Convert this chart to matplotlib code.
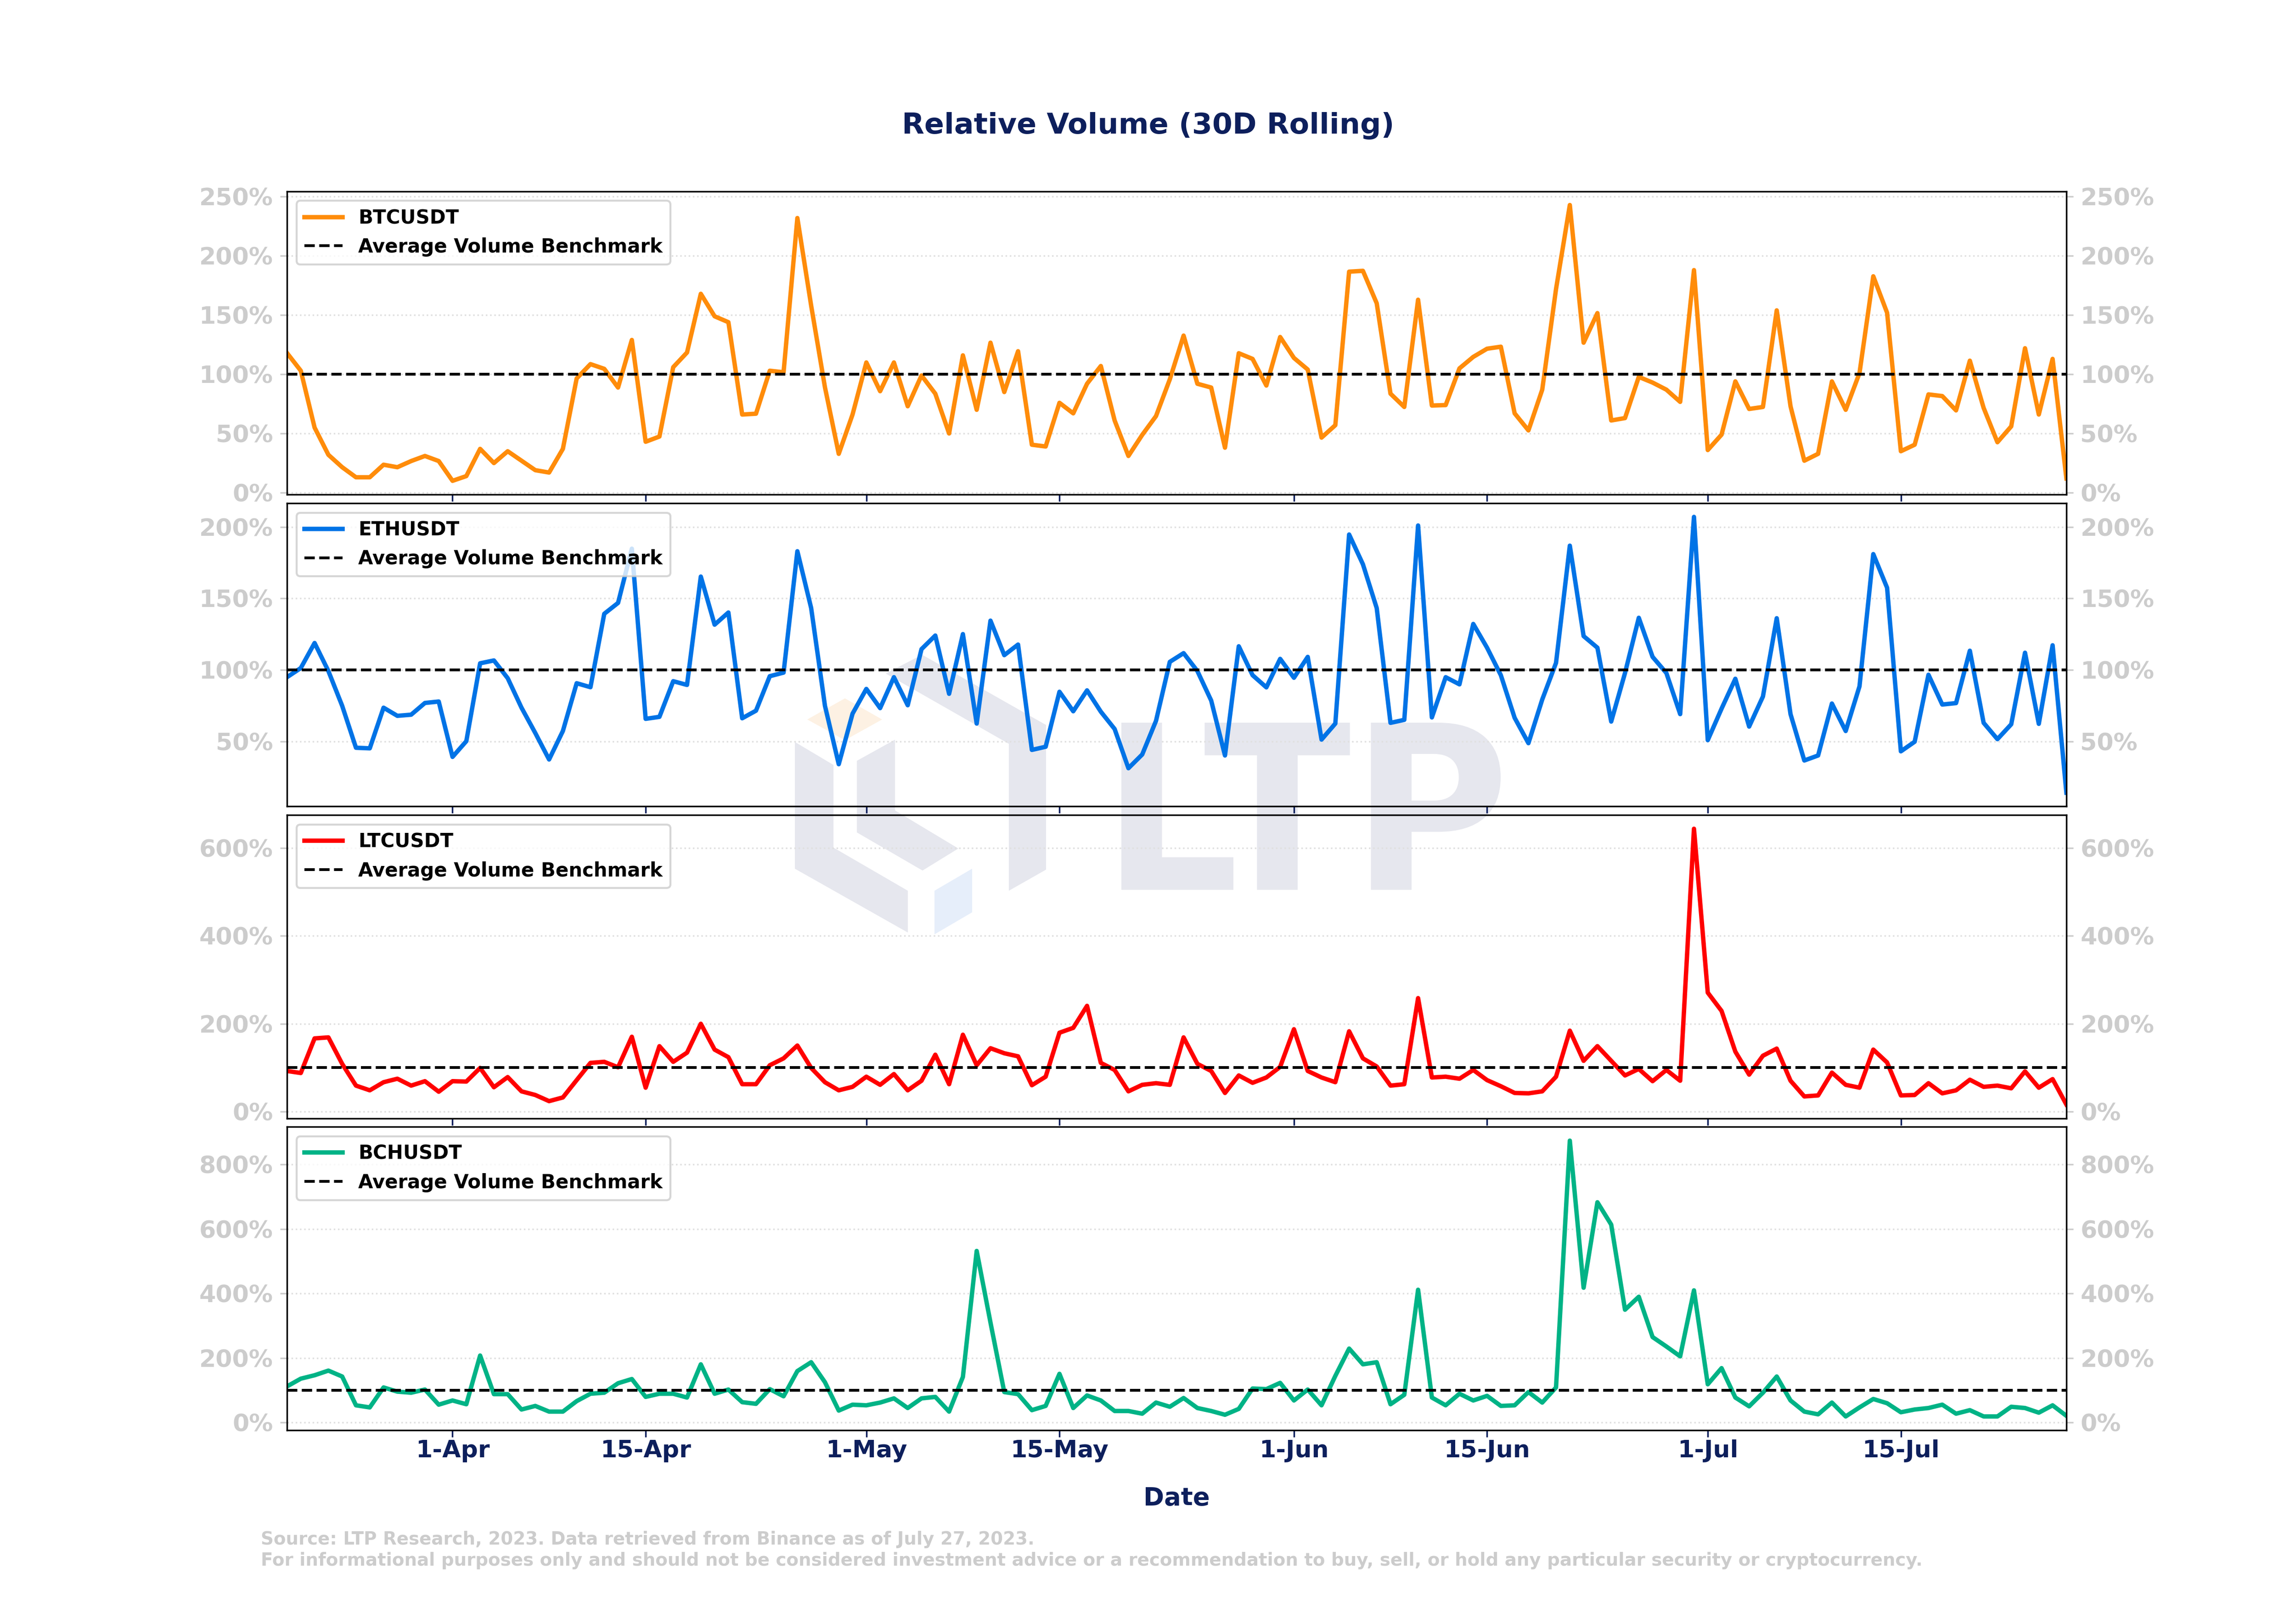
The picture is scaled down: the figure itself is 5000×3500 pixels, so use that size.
import pandas as pd
import matplotlib
matplotlib.use("Agg")
import matplotlib.pyplot as plt
import matplotlib.dates as mdates
from matplotlib.ticker import MultipleLocator, FuncFormatter
from matplotlib.patches import Polygon, PathPatch
from matplotlib.textpath import TextPath
from matplotlib.font_manager import FontProperties
from matplotlib.transforms import Affine2D

plt.rcParams['font.family'] = ['DejaVu Sans']
plt.rcParams['font.weight'] = 'bold'
plt.rcParams['axes.labelweight'] = 'bold'
plt.rcParams['figure.titleweight'] = 'bold'

# 1. Data (relative volume, % of 30D rolling average)
dates = pd.date_range('2023-03-20', '2023-07-27', freq='D')

btc = [118, 103, 55, 32, 21.5, 13, 13, 23.6, 21.5, 26.7,
       31, 26.7, 10, 14, 37, 25, 35, 27, 19, 17,
       37, 96.5, 108.6, 104.6, 88.8, 129, 43, 47.4, 106, 118.4,
       168, 149, 144, 66, 66.7, 103, 101.7, 232, 158, 89,
       32.8, 66, 110, 85.7, 110, 73, 99, 83.6, 50, 116,
       70, 126.7, 85, 119.5, 40.5, 39, 75.9, 67, 92, 107,
       61, 31, 48.8, 64.7, 95.7, 132.7, 92, 88.8, 38, 117.8,
       113, 90.5, 131.5, 113.8, 104, 46.5, 57, 186.7, 187.4, 160,
       83.6, 72.4, 163, 73.6, 74, 105, 114.7, 121.6, 123.3, 67,
       52.6, 87, 172, 243, 126.7, 151.7, 61, 63, 97.8, 93,
       87, 76.7, 188, 36, 49, 94, 70.7, 72.4, 154, 73,
       27, 32.8, 94, 70, 101, 182.8, 152, 35, 40.5, 83,
       81.6, 69.5, 111.5, 71.6, 42.6, 56, 122, 66, 113, 12]

eth = [95, 101.4, 118.9, 99.3, 75, 45.7, 45.3, 73.7, 68, 68.8,
       77, 78, 39.3, 50.3, 104.7, 106.7, 94.3, 73.7, 56, 37.5,
       57.4, 90.8, 88, 139.3, 146.9, 184.8, 65.9, 67.3, 92.2, 89.6,
       165.3, 131.7, 140.2, 66.3, 71.6, 95.7, 98.2, 183, 143.3, 75,
       34.2, 69.5, 86.8, 73.4, 95, 75.4, 114.6, 124.1, 83.4, 125.1,
       62.6, 134.5, 110.4, 117.8, 44.2, 46.4, 84.8, 71.2, 85.8, 70.9,
       58.8, 31.4, 41, 64.5, 105.7, 111.8, 99.3, 78.7, 40.3, 116.6,
       96.4, 87.9, 107.8, 94.6, 109.2, 51.4, 62.6, 194.7, 173.9, 143.3,
       63.1, 65.2, 201, 66.9, 95, 90, 132.2, 115.6, 96.4, 66.6,
       48.9, 79.4, 105, 186.9, 123.7, 115.6, 64, 97.9, 136.5, 109.2,
       97.9, 69.2, 207, 51, 73, 93.9, 60.5, 81.5, 136.2, 69.2,
       36.8, 40.3, 76.6, 57.4, 88.6, 181, 157.5, 43.2, 49.9, 96.7,
       75.9, 76.9, 113.5, 63.1, 51.7, 62.1, 112.1, 62.4, 117.3, 14.3]

ltc = [92.6, 88, 166.7, 169, 108.8, 59.3, 48.6, 67, 75, 59.3,
       69.4, 45.4, 69.4, 68.5, 99.5, 55.6, 78.7, 46.3, 38, 24,
       32.4, 71.8, 111, 113.4, 101, 170.4, 54.6, 149, 113.4, 134.3,
       200, 141.2, 124, 62.5, 62.5, 105.6, 121.3, 150.5, 99.5, 67,
       48.6, 56.5, 79.6, 61.1, 85.6, 48.6, 70.4, 129.6, 62.5, 175,
       105.6, 144.4, 132.9, 125.9, 60.2, 79.6, 179.6, 190.7, 240.7, 111,
       94.9, 46.3, 61.1, 64.8, 61.1, 169, 108.8, 92.6, 42.6, 82.4,
       65.7, 77.8, 101.9, 187.5, 92.6, 77.8, 67.1, 182.9, 121.3, 102.8,
       59.3, 62.5, 258.3, 77.8, 79.6, 75, 94.9, 71.8, 57.9, 42.6,
       41.7, 46.3, 79.6, 184.3, 115.7, 149.1, 115.7, 82.4, 97.2, 69.4,
       94.9, 70.4, 643.5, 270.8, 229.2, 136.6, 84.3, 127.3, 143.5, 70.4,
       34.7, 37, 88.9, 61.1, 54.6, 141.2, 112, 37, 38, 64.8,
       41.7, 48.6, 72.7, 56.5, 59.3, 53.2, 91.7, 54.6, 74.1, 16.2]

bch = [112, 136, 146.6, 161, 142.7, 53.4, 46.9, 108.8, 95.8, 92.5,
       102.3, 55.4, 68.4, 56.7, 207.8, 88, 88, 40.4, 51.5, 33.9,
       33.9, 66.4, 89.3, 92.5, 121.8, 134.9, 79.5, 89.3, 89.3, 77.5,
       180.5, 89.3, 102.3, 63.2, 58, 103.6, 81.4, 159.6, 187, 125,
       37.1, 55.4, 53.4, 61.9, 74.9, 45, 74.9, 79.5, 33.9, 141.4,
       532, 310, 94.5, 88, 38.4, 51.5, 151, 45, 84, 68.4,
       35.8, 35.8, 27.4, 61.9, 48.9, 76, 45, 35.8, 24.1, 42.3,
       105.5, 103.6, 123, 68.4, 102.3, 53.4, 144.6, 229.3, 180.5, 187,
       56.7, 86, 411.7, 77.5, 53.4, 89.3, 68.4, 82.7, 51.5, 53.4,
       94.5, 61.9, 108.8, 874, 418, 683, 613.7, 349.8, 390, 265,
       235.8, 205.2, 409.8, 118.6, 168.7, 77.5, 50.2, 92.5, 142.7, 68.4,
       33.9, 25.4, 61.9, 18.9, 46.9, 73, 59.9, 31.9, 40.4, 45,
       55.4, 27.4, 38.4, 18.9, 18.9, 48.9, 45, 30.6, 53.4, 20.8]

symbols = ['BTCUSDT', 'ETHUSDT', 'LTCUSDT', 'BCHUSDT']
series = [btc, eth, ltc, bch]
colors = ['#FF8C0A', '#0073E6', '#FF0000', '#00B386']
steps = [50, 50, 200, 200]

navy = '#0d1f5c'
grey = '#cccccc'

fig, axes = plt.subplots(4, 1, figsize=(16, 11.2), sharex=True)
fig.subplots_adjust(left=0.125, right=0.9, top=0.881, bottom=0.110, hspace=0.028)

for ax, sym, vals, col, step in zip(axes, symbols, series, colors, steps):
    ax.set_facecolor('none')
    ax.plot(dates, vals, color=col, lw=2.2, label=sym)
    ax.axhline(100, color='black', ls='--', lw=1.4, label='Average Volume Benchmark')
    ax.set_xlim(dates[0], dates[-1])
    ax.yaxis.set_major_locator(MultipleLocator(step))
    ax.yaxis.set_major_formatter(FuncFormatter(lambda v, p: f'{v:.0f}%'))
    ax.tick_params(axis='y', labelright=True, right=True, colors=grey, labelsize=12)
    ax.tick_params(axis='x', colors=navy, labelsize=12, pad=1)
    ax.grid(axis='y', color='#e0e0e0', ls=':', lw=0.8)
    ax.legend(loc='upper left', prop={'weight': 'bold', 'size': 9.65})

axes[-1].xaxis.set_major_locator(mdates.DayLocator(bymonthday=[1, 15]))
axes[-1].xaxis.set_major_formatter(mdates.DateFormatter('%-d-%b'))
axes[-1].set_xlabel('Date', fontsize=12.5, color=navy, labelpad=12)

fig.suptitle('Relative Volume (30D Rolling)', fontsize=14.6, color=navy, y=0.9217, va='center')

fig.text(0.1135, 0.042, 'Source: LTP Research, 2023. Data retrieved from Binance as of July 27, 2023.',
         fontsize=8.93, color=grey, va='center')
fig.text(0.1135, 0.029, 'For informational purposes only and should not be considered investment advice '
         'or a recommendation to buy, sell, or hold any particular security or cryptocurrency.',
         fontsize=8.93, color=grey, va='center')

# watermark logo (pixel coords of a 5000x3500 canvas)
W, H = 5000, 3500
def fpts(pts):
    return [(x / W, 1 - y / H) for x, y in pts]

wm = '#e6e7ee'
logo = [
    ([(1731, 1616), (1815, 1666), (1815, 1846), (1977, 1940), (1977, 2031), (1731, 1892)], wm),
    ([(1866, 1657), (1949, 1611), (1949, 1765), (2087, 1848), (2009, 1896), (1866, 1813)], wm),
    ([(1929, 1467), (2008, 1426), (2278, 1579), (2278, 1894), (2197, 1940), (2197, 1620)], wm),
    ([(2035, 1940), (2117, 1892), (2117, 1987), (2035, 2035)], '#e6eefa'),
    ([(1758, 1567), (1840, 1521), (1921, 1567), (1840, 1612)], '#fdf1e3'),
]
for pts, c in logo:
    fig.add_artist(Polygon(fpts(pts), closed=True, facecolor=c, edgecolor='none',
                           transform=fig.transFigure, zorder=-1))

tp = TextPath((0, 0), 'LTP', size=100, prop=FontProperties(family='DejaVu Sans', weight='bold'))
bb = tp.get_extents()
x0, y0 = 2442 / W, 1 - 1938 / H
w, h = 826 / W, 364 / H
tr = Affine2D().translate(-bb.x0, -bb.y0).scale(w / bb.width, h / bb.height).translate(x0, y0)
fig.add_artist(PathPatch(tp, facecolor=wm, edgecolor='none',
                         transform=tr + fig.transFigure, zorder=-1))

plt.savefig('out.png', dpi=312.5)
